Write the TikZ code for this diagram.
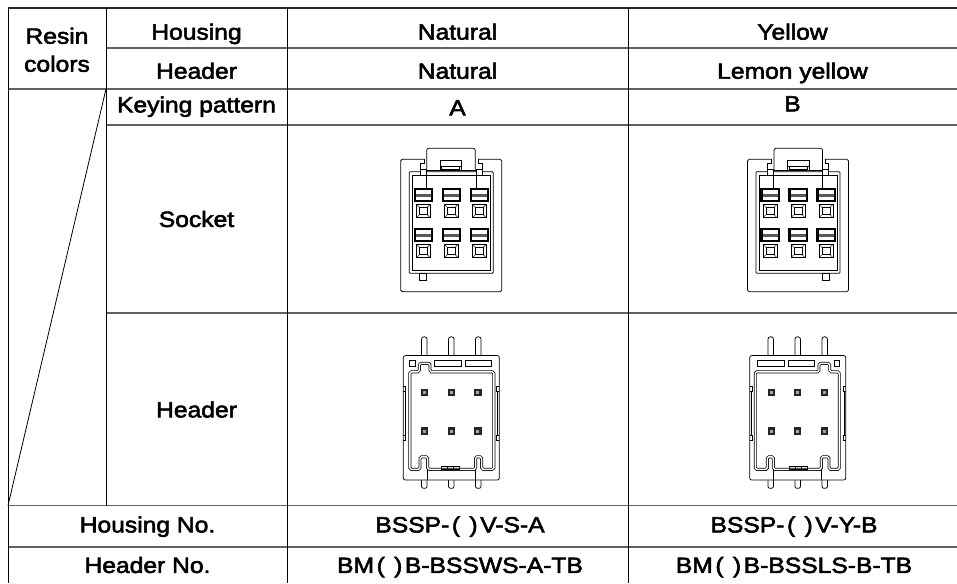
\documentclass[tikz,border=0pt]{standalone}
\usepackage{fontspec}
\setmainfont{Liberation Sans}[FakeStretch=1.12,FakeBold=2.5]
\newcommand\blank{\kern0.12em(\hspace{0.42em})\kern0.12em}
\begin{document}
\begin{tikzpicture}[x=1pt,y=-1pt,
  txt/.style={font=\fontsize{22}{28}\selectfont, inner sep=0pt, text height=15.8pt, text depth=0pt, anchor=center},
  hline/.style={line width=1.3pt, black!62},
  vline/.style={line width=1pt, black},
  part/.style={line width=0.75pt, black},
  lance/.style={line width=1.3pt, black},
  sockpic/.pic={
    % outer frame
    \draw[part, rounded corners=1.5] (-26.9,-66.2) -- (-50.5,-66.2) -- (-50.5,66.2) -- (50.5,66.2) -- (50.5,-66.2) -- (26.9,-66.2);
    \draw[part] (-26.9,-66.2) -- (-26.9,-62) -- (-30.7,-62) -- (-30.7,-50.5);
    \draw[part] (26.9,-66.2) -- (26.9,-62) -- (30.7,-62) -- (30.7,-50.5);
    % inner body
    \draw[part, rounded corners=1] (-42,-53.8) rectangle (42,47.8);
    \draw[part] (-39,-50.5) rectangle (39,45);
    % latch
    \draw[part, fill=white, rounded corners=2] (-24.5,-55.5) -- (-24.5,-77.2) -- (24,-77.2) -- (24,-55.5);
    \draw[part] (-30.7,-55.5) -- (30.7,-55.5);
    \draw[part, fill=white] (-11.3,-65.5) rectangle (10.3,-55.5);
    \draw[part] (-11.3,-59.5) -- (10.3,-59.5);
    \draw[part] (-9.5,-59.5) rectangle (8.5,-56.2);
    % side squares and guides
    \draw[part, fill=white] (-30.7,-56.2) rectangle (-24.7,-50.5);
    \draw[part, fill=white] (24.7,-56.2) rectangle (30.7,-50.5);
    \draw[part] (-24.7,-50.5) -- (-24.7,-38);
    \draw[part] (24.7,-50.5) -- (24.7,-38);
    % key
    \draw[part] (-31.7,47.8) rectangle (-24.5,54.5);
    % cavities
    \foreach \c in {-28,0,28} {
      \foreach \r in {-37.2,2.8} {
        \draw[lance, fill=white] (\c-9,\r) rectangle (\c+9,\r+13.4);
        \fill[black!65] (\c-8,\r+5.6) rectangle (\c+8,\r+8.2);
        \draw[part, line width=0.5pt] (\c-8,\r+1.4) rectangle (\c+8,\r+12);
      }
      \foreach \s in {-21.2,18.8} {
        \draw[part] (\c-7,\s) rectangle (\c+7,\s+13.4);
        \draw[part] (\c-4,\s+3) rectangle (\c+4,\s+10.4);
        \draw[part, line width=0.4pt] (\c-7,\s) -- (\c-4,\s+3) (\c+7,\s) -- (\c+4,\s+3)
          (\c-7,\s+13.4) -- (\c-4,\s+10.4) (\c+7,\s+13.4) -- (\c+4,\s+10.4);
      }
    }
  },
  headpic/.pic={
    % pins
    \foreach \p in {-27,0,27} {
      \draw[part, rounded corners=2.5] (\p-2.8,-62.2) -- (\p-2.8,-81) -- (\p+2.8,-81) -- (\p+2.8,-62.2);
      \draw[part, rounded corners=2] (\p-2.8,62.2) -- (\p-2.8,70.5) -- (\p+2.8,70.5) -- (\p+2.8,62.2);
    }
    % frame
    \draw[part, fill=white, rounded corners=2] (-48,-62.2) rectangle (48,62.2);
    % top marks
    \draw[part] (-42,-57.8) rectangle (-36.3,-51.1);
    \draw[part] (-17,-57.8) rectangle (9.7,-51.1);
    \draw[part] (13.7,-57.8) rectangle (40.3,-51.1);
    % side notches
    \foreach \sx in {-1,1} {
      \draw[part] (\sx*48,-31.1) -- (\sx*45.5,-31.1) -- (\sx*45.5,-26.1) -- (\sx*48,-26.1);
      \draw[part] (\sx*48,17.2) -- (\sx*45.5,17.2) -- (\sx*45.5,22.2) -- (\sx*48,22.2);
      \draw[part, line width=0.4pt] (\sx*46.2,-26.1) -- (\sx*46.2,17.2);
    }
    % cavity (double wall)
    \draw[part, double=white, double distance=1.4pt, rounded corners=1.5]
      (-41.5,-46) -- (-32,-46) -- (-32,-54.5) -- (-21.3,-54.5) -- (-21.3,-46) -- (42.5,-46)
      -- (42.5,51.5) -- (30.3,51.5) -- (30.3,39) -- (24.3,39) -- (24.3,51.5)
      -- (-23.7,51.5) -- (-23.7,39) -- (-31.3,39) -- (-31.3,51.5) -- (-41.5,51.5) -- cycle;
    \draw[part] (-23.7,51.5) -- (-23.7,62.2);
    \draw[part] (24.3,51.5) -- (24.3,62.2);
    % bottom centre
    \draw[part] (-9.7,48.2) rectangle (8.3,51.5);
    \draw[part] (-3.7,48.2) -- (-3.7,51.5) (2.3,48.2) -- (2.3,51.5);
    % contacts
    \foreach \c in {-27,0,26.5} {
      \foreach \r in {-25.5,13.2} {
        \fill[black!85] (\c-3.7,\r-3.7) rectangle (\c+3.7,\r+3.7);
        \fill[black!35] (\c-1.5,\r-1.5) rectangle (\c+1.5,\r+1.5);
      }
    }
  }
]
\useasboundingbox (0,0) rectangle (957,583);

% ---- table lines ----
\draw[hline, black!85] (8,8) -- (957,8);
\draw[hline] (106,48) -- (957,48);
\draw[hline] (8,89) -- (957,89);
\draw[hline] (106,125) -- (957,125);
\draw[hline] (106,313) -- (957,313);
\draw[hline] (8,505.5) -- (957,505.5);
\draw[hline] (8,547) -- (957,547);
\draw[vline] (8,8) -- (8,583);
\draw[vline] (106,8) -- (106,505.5);
\draw[vline] (287,8) -- (287,583);
\draw[vline] (628,8) -- (628,583);
\coordinate (dtop) at (106,89);
\coordinate (dbot) at (8,505.5);
\draw[line width=0.8pt] (dtop) -- (dbot);

% ---- texts ----
\node[txt] (resin) at (57,35.8) {Resin};
\node[txt] (colors) at (57,63.8) {colors};
\node[txt] (hsg) at (196.5,31.7) {Housing};
\node[txt] (hdr) at (196.5,70.8) {Header};
\node[txt] (natA) at (457.5,31.7) {Natural};
\node[txt] (natB) at (457.5,70.8) {Natural};
\node[txt] (yel) at (792.5,31.7) {Yellow};
\node[txt] (lem) at (792.5,70.8) {Lemon yellow};
\node[txt] (key) at (196.5,104.5) {Keying pattern};
\node[txt] (ka) at (457.5,107.5) {A};
\node[txt] (kb) at (792.5,103.5) {B};
\node[txt] (sock) at (196.5,219) {Socket};
\node[txt] (head) at (196.5,409.5) {Header};
\node[txt] (hno) at (147.5,524.5) {Housing No.};
\node[txt] (hnoA) at (460,524.5) {BSSP-\blank V-S-A};
\node[txt] (hnoB) at (794,524.5) {BSSP-\blank V-Y-B};
\node[txt] (dno) at (147.5,565) {Header No.};
\node[txt] (dnoA) at (460,565) {BM\blank B-BSSWS-A-TB};
\node[txt] (dnoB) at (794,565) {BM\blank B-BSSLS-B-TB};

% ---- drawings ----
\pic at (451.2,225.5) {sockpic};
\pic[xscale=-1] at (798,225.5) {sockpic};
\pic at (451.3,417.8) {headpic};
\pic[xscale=-1] at (797.7,417.8) {headpic};
\end{tikzpicture}
\end{document}
